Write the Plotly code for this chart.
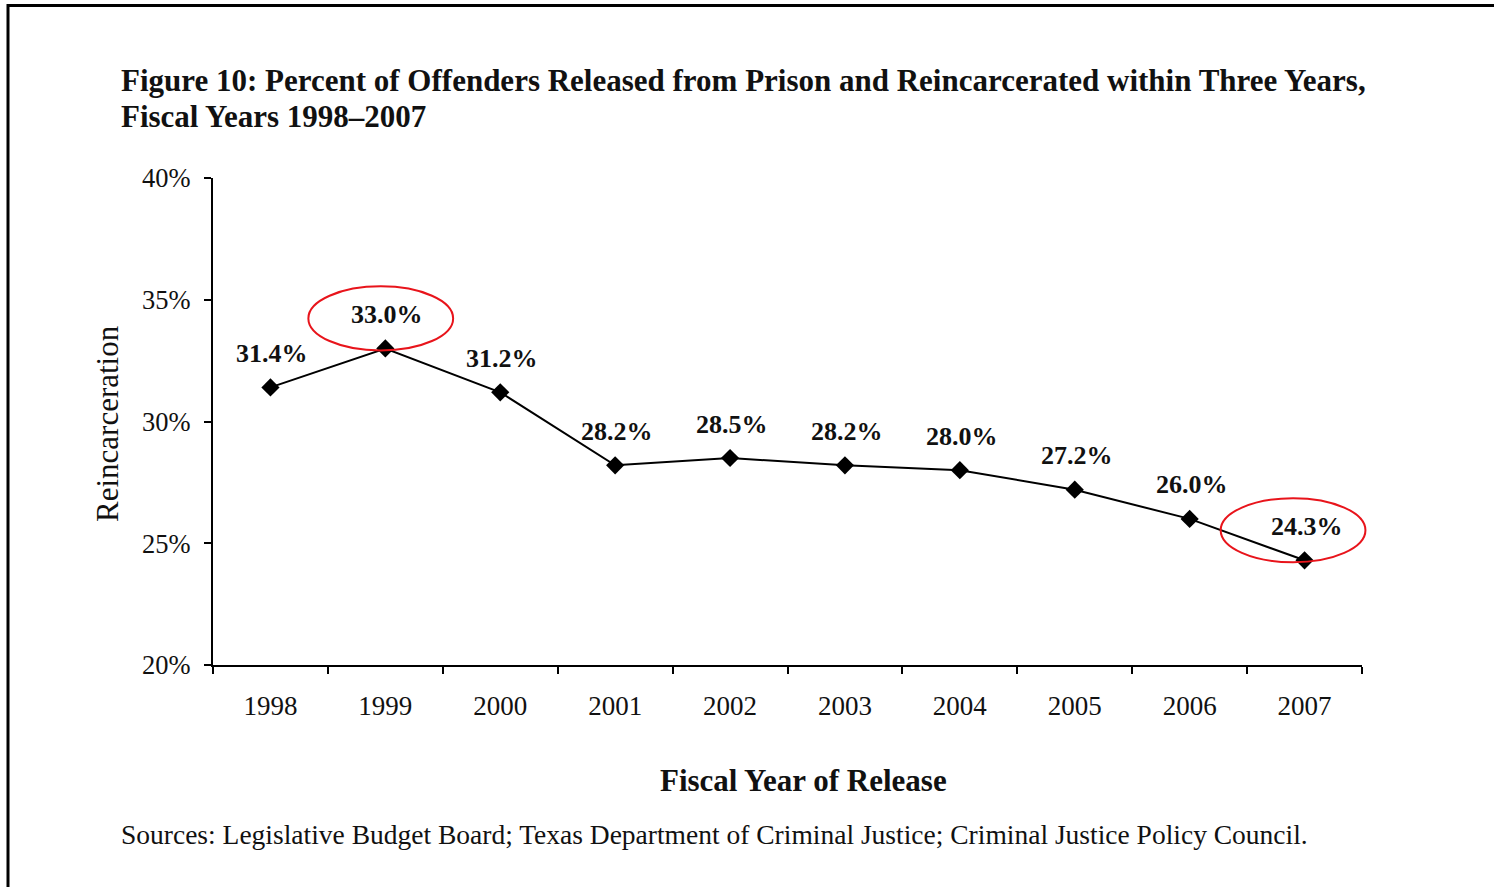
import plotly.graph_objects as go

# Fiscal years of release and three-year reincarceration rates (%)
years = ["1998", "1999", "2000", "2001", "2002", "2003", "2004", "2005", "2006", "2007"]
rates = [31.4, 33.0, 31.2, 28.2, 28.5, 28.2, 28.0, 27.2, 26.0, 24.3]
y_ticks = [20, 25, 30, 35, 40]
highlight_years = ["1999", "2007"]

title_lines = [
    "Figure 10: Percent of Offenders Released from Prison and Reincarcerated within Three Years,",
    "Fiscal Years 1998\u20132007",
]
source_note = ("Sources: Legislative Budget Board; Texas Department of Criminal Justice; "
               "Criminal Justice Policy Council.")

W, H = 1494, 887
L, R, T, B = 213, 132, 178, 222
PW, PH = W - L - R, H - T - B
N = len(years)

def px_x(p):
    return (p - L) / PW

def px_y(p):
    return (H - B - p) / PH

def idx_to_paper(i):
    # category axis spans [-0.5, N - 0.5]
    return (i + 0.5) / N

SERIF = "Liberation Serif, Times New Roman, serif"
INK = "#111111"

fig = go.Figure()
fig.add_trace(go.Scatter(
    x=years, y=rates, mode="lines+markers",
    line=dict(color="black", width=2),
    marker=dict(symbol="diamond", size=14, color="black"),
    hoverinfo="x+y", showlegend=False,
))

annotations = []
for i, v in enumerate(rates):
    annotations.append(dict(
        x=i, y=v, xref="x", yref="y", text=f"<b>{v:.1f}%</b>",
        showarrow=False, yshift=34, xshift=2,
        font=dict(family=SERIF, size=26, color=INK),
    ))

# title, axis titles and source line
annotations += [
    dict(x=px_x(119), y=px_y(80), xref="paper", yref="paper", xanchor="left", yanchor="middle",
         text=f"<b>{title_lines[0]}</b>", showarrow=False,
         font=dict(family=SERIF, size=31, color=INK)),
    dict(x=px_x(119), y=px_y(116), xref="paper", yref="paper", xanchor="left", yanchor="middle",
         text=f"<b>{title_lines[1]}</b>", showarrow=False,
         font=dict(family=SERIF, size=31, color=INK)),
    dict(x=px_x(107), y=px_y(424), xref="paper", yref="paper", xanchor="center", yanchor="middle",
         text="Reincarceration", textangle=-90, showarrow=False,
         font=dict(family=SERIF, size=31, color=INK)),
    dict(x=px_x(803), y=px_y(780), xref="paper", yref="paper", xanchor="center", yanchor="middle",
         text="<b>Fiscal Year of Release</b>", showarrow=False,
         font=dict(family=SERIF, size=31, color=INK)),
    dict(x=px_x(119), y=px_y(834), xref="paper", yref="paper", xanchor="left", yanchor="middle",
         text=source_note, showarrow=False,
         font=dict(family=SERIF, size=27.5, color=INK)),
]

shapes = []
# red ellipses around highlighted values (paper-referenced in x so they are not clipped)
ellipse_extent = {"1999": (-0.67, 0.59), "2007": (-0.73, 0.53)}
for yr in highlight_years:
    i = years.index(yr)
    v = rates[i]
    left, right = ellipse_extent[yr]
    shapes.append(dict(
        type="circle", xref="paper", yref="y",
        x0=idx_to_paper(i + left), x1=idx_to_paper(i + right),
        y0=v - 0.08, y1=v + 2.55,
        line=dict(color="#e8141b", width=2),
    ))

# frame on the left and top edges of the page
shapes += [
    dict(type="line", xref="paper", yref="paper",
         x0=px_x(8), x1=px_x(8), y0=px_y(4), y1=px_y(H + 5),
         line=dict(color="black", width=3)),
    dict(type="line", xref="paper", yref="paper",
         x0=px_x(7), x1=px_x(W + 5), y0=px_y(5.5), y1=px_y(5.5),
         line=dict(color="black", width=3)),
]

fig.update_layout(
    width=W, height=H,
    margin=dict(l=L, r=R, t=T, b=B),
    paper_bgcolor="white", plot_bgcolor="white",
    annotations=annotations, shapes=shapes,
    font=dict(family=SERIF, color=INK),
    showlegend=False,
)
fig.update_xaxes(
    type="category", range=[-0.5, N - 0.5],
    showline=True, linecolor="black", linewidth=2,
    ticks="outside", tickson="boundaries", ticklen=7, tickwidth=2, tickcolor="black",
    showgrid=False, zeroline=False,
    tickfont=dict(family=SERIF, size=27, color=INK),
    ticklabelstandoff=16,
)
fig.update_yaxes(
    range=[20, 40], tickvals=y_ticks, ticktext=[f"{t}%" for t in y_ticks],
    showline=True, linecolor="black", linewidth=2,
    ticks="outside", ticklen=7, tickwidth=2, tickcolor="black",
    showgrid=False, zeroline=False,
    tickfont=dict(family=SERIF, size=26.5, color=INK),
    ticklabelstandoff=8,
)

fig.write_html("out.html")
